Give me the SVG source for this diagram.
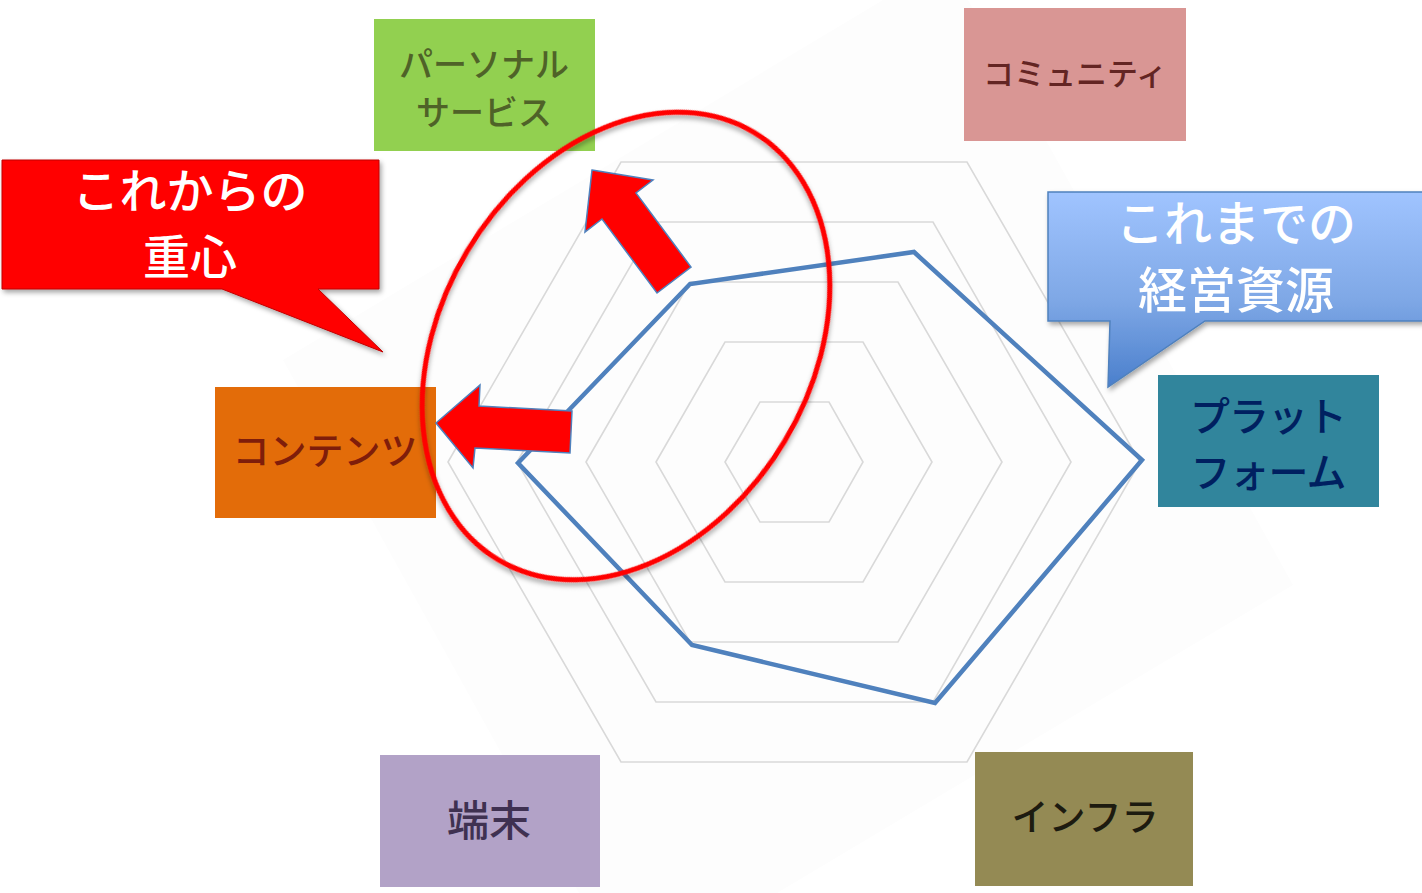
<svg xmlns="http://www.w3.org/2000/svg" width="1422" height="893" viewBox="0 0 1422 893">
<defs>
<style>
.t{font-family:"Noto Sans CJK JP","Noto Sans",sans-serif;text-anchor:middle;font-weight:500}
.ring{fill:none;stroke:#d9d9d9;stroke-width:1.6}
.arrow{fill:#ff0000;stroke:#4f81bd;stroke-width:1.5;stroke-linejoin:miter}
</style>
<linearGradient id="bg" x1="0" y1="0" x2="0" y2="1">
<stop offset="0" stop-color="#a0c4ff"/>
<stop offset="0.55" stop-color="#7fa8e6"/>
<stop offset="1" stop-color="#4a7fcc"/>
</linearGradient>
<filter id="sh" x="-10%" y="-10%" width="130%" height="130%">
<feDropShadow dx="2" dy="3" stdDeviation="2.5" flood-color="#000" flood-opacity="0.35"/>
</filter>
<filter id="bl"><feGaussianBlur stdDeviation="0.6"/></filter>
</defs>
<rect width="1422" height="893" fill="#ffffff"/>
<polygon points="283,360 883,0 968,0 1293,585 777,893 579,893" fill="#fdfdfd"/>

<g id="chart">
<polygon class="ring" points="448,462 621,162 967,162 1140,462 967,762 621,762"/>
<polygon class="ring" points="517,462 656,222 933,222 1071,462 933,702 656,702"/>
<polygon class="ring" points="586,462 690,282 898,282 1002,462 898,642 690,642"/>
<polygon class="ring" points="656,462 725,342 863,342 932,462 863,582 725,582"/>
<polygon class="ring" points="725,462 760,402 829,402 863,462 829,522 760,522"/>
<polygon points="518,463 690,284 914,252 1142,460 935,703 692,645" fill="none" stroke="#4f81bd" stroke-width="4.5" stroke-linejoin="miter" filter="url(#bl)"/>
</g>

<g id="node-personal">
<rect x="374" y="19" width="221" height="132" fill="#92d050"/>
<text class="t" font-size="34" fill="#4f6228"><tspan x="484" y="77">パーソナル</tspan><tspan x="484" y="125">サービス</tspan></text>
</g>
<g id="node-community">
<rect x="964" y="8" width="222" height="133" fill="#d99694"/>
<text class="t" x="1075" y="85" font-size="31" fill="#632523">コミュニティ</text>
</g>
<g id="node-platform">
<rect x="1158" y="375" width="221" height="132" fill="#31859c"/>
<text class="t" font-size="40" fill="#002060" letter-spacing="-1"><tspan x="1268" y="431">プラット</tspan><tspan x="1268" y="487">フォーム</tspan></text>
</g>
<g id="node-contents">
<rect x="215" y="387" width="221" height="131" fill="#e36c09"/>
<text class="t" x="325" y="465" font-size="37" fill="#7f1d0a">コンテンツ</text>
</g>
<g id="node-terminal">
<rect x="380" y="755" width="220" height="132" fill="#b2a2c7"/>
<text class="t" x="489" y="836" font-size="42" fill="#3f3151">端末</text>
</g>
<g id="node-infra">
<rect x="975" y="752" width="218" height="134" fill="#948a54"/>
<text class="t" x="1085" y="831" font-size="37" fill="#1d1b10">インフラ</text>
</g>

<g id="connectors">
<ellipse cx="626" cy="346" rx="185" ry="249" transform="rotate(30.9 626 346)" fill="none" stroke="#ff0000" stroke-width="5" filter="url(#sh)"/>
<polygon class="arrow" points="592,170 653,180 636,193 691,267 657,293 602,219 585,232"/>
<polygon class="arrow" points="436,423 480,385 479,406 572,411 570,453 475,448 473,468"/>
</g>

<g id="callout-red">
<path d="M2,160 H379 V289 H318 L383,352 L222,289 H2 Z" fill="#ff0000" stroke="#c00000" stroke-width="1" filter="url(#sh)"/>
<text class="t" font-size="47" fill="#ffffff" font-weight="400"><tspan x="190" y="208">これからの</tspan><tspan x="190" y="274">重心</tspan></text>
</g>
<g id="callout-blue">
<path d="M1048,192 H1424 V321 H1205 L1108,387 L1110,321 H1048 Z" fill="url(#bg)" stroke="#4f81bd" stroke-width="1.5" filter="url(#sh)"/>
<text class="t" font-size="48" fill="#ffffff" font-weight="400"><tspan x="1236" y="241">これまでの</tspan><tspan x="1236" y="308" font-size="49">経営資源</tspan></text>
</g>
</svg>
